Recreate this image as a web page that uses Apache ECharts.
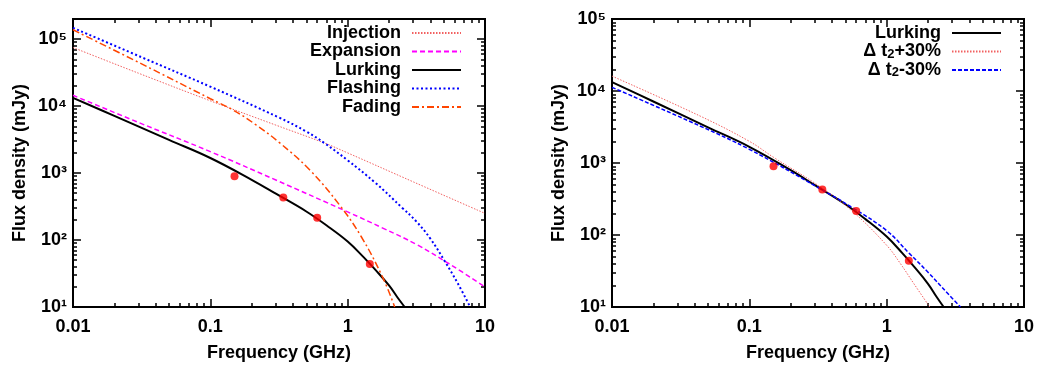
<!DOCTYPE html>
<html>
<head>
<meta charset="utf-8">
<script src="https://cdn.jsdelivr.net/npm/echarts@6/dist/echarts.min.js"></script>
<style>
  html, body { margin: 0; padding: 0; background: #fff; }
  #chart { width: 1041px; height: 368px; }
</style>
</head>
<body>
<div id="chart"></div>
<script>
// Tick positions (log axes, gnuplot style: decades + 2..9 minor ticks)
const X_MAJOR = [0.01, 0.1, 1, 10];
const X_MINOR = [0.02, 0.03, 0.04, 0.05, 0.06, 0.07, 0.08, 0.09,
  0.2, 0.3, 0.4, 0.5, 0.6, 0.7, 0.8, 0.9, 2, 3, 4, 5, 6, 7, 8, 9];
const Y_MAJOR = [10, 100, 1000, 10000, 100000];
const Y_MINOR = [20, 30, 40, 50, 60, 70, 80, 90, 200, 300, 400, 500, 600, 700, 800, 900,
  2000, 3000, 4000, 5000, 6000, 7000, 8000, 9000, 20000, 30000, 40000, 50000, 60000, 70000,
  80000, 90000];
const SUPERSCRIPT = ["⁰", "¹", "²", "³", "⁴", "⁵", "⁶"];

// Observed flux points (both panels)
const OBS_FREQ = [0.15, 0.34, 0.60, 1.45];
const OBS_FLUX = [900, 430, 215, 44];

// Left panel models (GHz, mJy)
const INJ_FREQ = [0.01, 0.03, 0.1, 0.3, 0.68, 1, 3, 10];
const INJ_FLUX = [75000, 31000, 12000, 5200, 2800, 2000, 740, 250];

const EXP_FREQ = [0.01, 0.03, 0.1, 0.3, 1, 1.8, 3.2, 5.6, 10];
const EXP_FLUX = [14500, 5700, 2090, 787, 263, 151, 85, 43, 20];

const LURK_FREQ = [0.01, 0.02, 0.05, 0.1, 0.2, 0.3, 0.5, 0.7, 1, 1.3, 1.6, 2, 2.3, 2.6];
const LURK_FLUX = [13300, 7150, 3130, 1680, 794, 492, 267, 166, 95, 56, 35.5, 21, 14, 10];

const FLASH_FREQ = [0.01, 0.0316, 0.1, 0.316, 0.5, 0.68, 1, 1.58, 2.5, 3.16, 4, 5.07, 6.3, 7.8];
const FLASH_FLUX = [147600, 53700, 19500, 6760, 4170, 2790, 1550, 724, 302, 190, 105, 49, 23, 10];

const FADE_FREQ = [0.01, 0.0316, 0.1, 0.147, 0.215, 0.32, 0.53, 0.875, 1.26, 1.81, 2.2];
const FADE_FLUX = [138000, 42700, 12900, 8700, 5250, 2830, 1110, 331, 111, 27, 10];

// Right panel: +/-30% variations of delta t2
const PLUS_FREQ = [0.01, 0.0437, 0.1, 0.15, 0.316, 0.562, 1, 1.26, 1.58, 2.06];
const PLUS_FLUX = [16100, 4500, 2000, 1200, 490, 214, 72, 40, 21, 10];

const MINUS_FREQ = [0.01, 0.0437, 0.1, 0.316, 0.562, 1, 1.456, 2.0, 2.82, 3.45];
const MINUS_FLUX = [11250, 3270, 1550, 457, 240, 115, 56, 30.4, 15, 10];

const FONT = "Liberation Sans";
const TXT = { fontFamily: FONT, fontWeight: "bold", fontSize: 18, color: "#000" };
const FRAME = { show: true, lineStyle: { color: "#000", width: 2 } };

// One x and one y axis per grid; each panel is four stacked grids:
// labelled major ticks, minor ticks, and the mirrored top/right pair.
const PANELS = [
  { left: 73, top: 19, width: 412, height: 288, yMax: 200000 },
  { left: 612, top: 19, width: 412, height: 288, yMax: 100000 },
];
const LAYERS = [
  { x: "bottom", y: "left", xt: X_MAJOR, yt: Y_MAJOR, len: 8, labelled: true },
  { x: "bottom", y: "left", xt: X_MINOR, yt: Y_MINOR, len: 4, labelled: false },
  { x: "top", y: "right", xt: X_MAJOR, yt: Y_MAJOR, len: 8, labelled: false },
  { x: "top", y: "right", xt: X_MINOR, yt: Y_MINOR, len: 4, labelled: false },
];

function pairs(xs, ys) {
  return xs.map((x, i) => [x, ys[i]]);
}

function tick(vals, len) {
  return {
    show: true, inside: true, length: len, customValues: vals,
    lineStyle: { color: "#000", width: 1.5 },
  };
}

// decade labels only, written as 10 with a superscript exponent
function decadeLabel(v) {
  const e = Math.log10(v);
  const r = Math.round(e);
  return Math.abs(e - r) < 1e-6 ? "10" + SUPERSCRIPT[r] : "";
}

const grids = [];
const xAxes = [];
const yAxes = [];
const mainAxis = [];
PANELS.forEach((p) => {
  mainAxis.push(grids.length);
  LAYERS.forEach((l) => {
    const g = grids.length;
    grids.push({ left: p.left, top: p.top, width: p.width, height: p.height });
    const xa = {
      type: "log", logBase: 10, gridIndex: g, position: l.x, min: 0.01, max: 10,
      axisLine: FRAME, splitLine: { show: false },
      axisTick: tick(l.xt, l.len), axisLabel: { show: false },
    };
    const ya = {
      type: "log", logBase: 10, gridIndex: g, position: l.y, min: 10, max: p.yMax,
      axisLine: FRAME, splitLine: { show: false },
      axisTick: tick(l.yt.filter((v) => v < p.yMax), l.len), axisLabel: { show: false },
    };
    if (l.labelled) {
      Object.assign(xa, {
        name: "Frequency (GHz)", nameLocation: "middle", nameGap: 37, nameTextStyle: TXT,
        axisLabel: { ...TXT, margin: 11, formatter: (v) => String(v) },
      });
      Object.assign(ya, {
        name: "Flux density (mJy)", nameLocation: "middle", nameGap: 44, nameTextStyle: TXT,
        axisLabel: { ...TXT, margin: 6, formatter: decadeLabel },
      });
    }
    xAxes.push(xa);
    yAxes.push(ya);
  });
});

function line(name, xs, ys, color, width, type, axis) {
  return {
    type: "line", name, data: pairs(xs, ys),
    xAxisIndex: axis, yAxisIndex: axis,
    symbol: "none", smooth: 0.4, z: 3,
    lineStyle: { color, width, type },
    itemStyle: { color },
  };
}

function points(axis) {
  return {
    type: "scatter", name: "data", data: pairs(OBS_FREQ, OBS_FLUX),
    xAxisIndex: axis, yAxisIndex: axis,
    symbol: "circle", symbolSize: 8, z: 5,
    itemStyle: { color: "#ff0000" },
  };
}

// line icons only: the series' legend circle is made invisible
const legendBase = {
  orient: "vertical", align: "right", padding: 0,
  itemWidth: 49, itemHeight: 6, itemGap: 0.5,
  itemStyle: { opacity: 0 },
  textStyle: { ...TXT, lineHeight: 18, padding: [0, 6, 0, 0] },
};

const L = mainAxis[0];
const R = mainAxis[1];

const option = {
  backgroundColor: "#fff",
  animation: false,
  grid: grids,
  xAxis: xAxes,
  yAxis: yAxes,
  legend: [
    {
      ...legendBase, right: 579, top: 24,
      data: ["Injection", "Expansion", "Lurking", "Flashing", "Fading"],
    },
    {
      ...legendBase, right: 39, top: 24,
      data: ["Lurking", "Δ t2+30%", "Δ t2-30%"],
      formatter: (name) => name.startsWith("Δ")
        ? "{a|Δ t}{s|2}{a|" + name.slice(4) + "}"
        : "{a|" + name + "}",
      textStyle: {
        ...TXT, padding: [0, 6, 0, 0],
        rich: {
          a: { ...TXT, lineHeight: 18 },
          s: { fontFamily: FONT, fontWeight: "bold", fontSize: 13, color: "#000", lineHeight: 10, verticalAlign: "bottom" },
        },
      },
    },
  ],
  series: [
    line("Injection", INJ_FREQ, INJ_FLUX, "#f26060", 1, [1.5, 1.5], L),
    line("Expansion", EXP_FREQ, EXP_FLUX, "#ff00ff", 1.5, [5, 3], L),
    line("Lurking", LURK_FREQ, LURK_FLUX, "#000000", 2, "solid", L),
    line("Flashing", FLASH_FREQ, FLASH_FLUX, "#0000ff", 2, [2, 2.5], L),
    line("Fading", FADE_FREQ, FADE_FLUX, "#ff4500", 1.5, [7, 3, 2, 3], L),
    points(L),
    line("Lurking", LURK_FREQ, LURK_FLUX, "#000000", 2, "solid", R),
    line("Δ t2+30%", PLUS_FREQ, PLUS_FLUX, "#f26060", 1, [1.5, 1.5], R),
    line("Δ t2-30%", MINUS_FREQ, MINUS_FLUX, "#0000ff", 1.5, [4, 2], R),
    points(R),
  ],
};

const chart = echarts.init(document.getElementById("chart"), null, { renderer: "canvas" });
chart.setOption(option);
</script>
</body>
</html>
